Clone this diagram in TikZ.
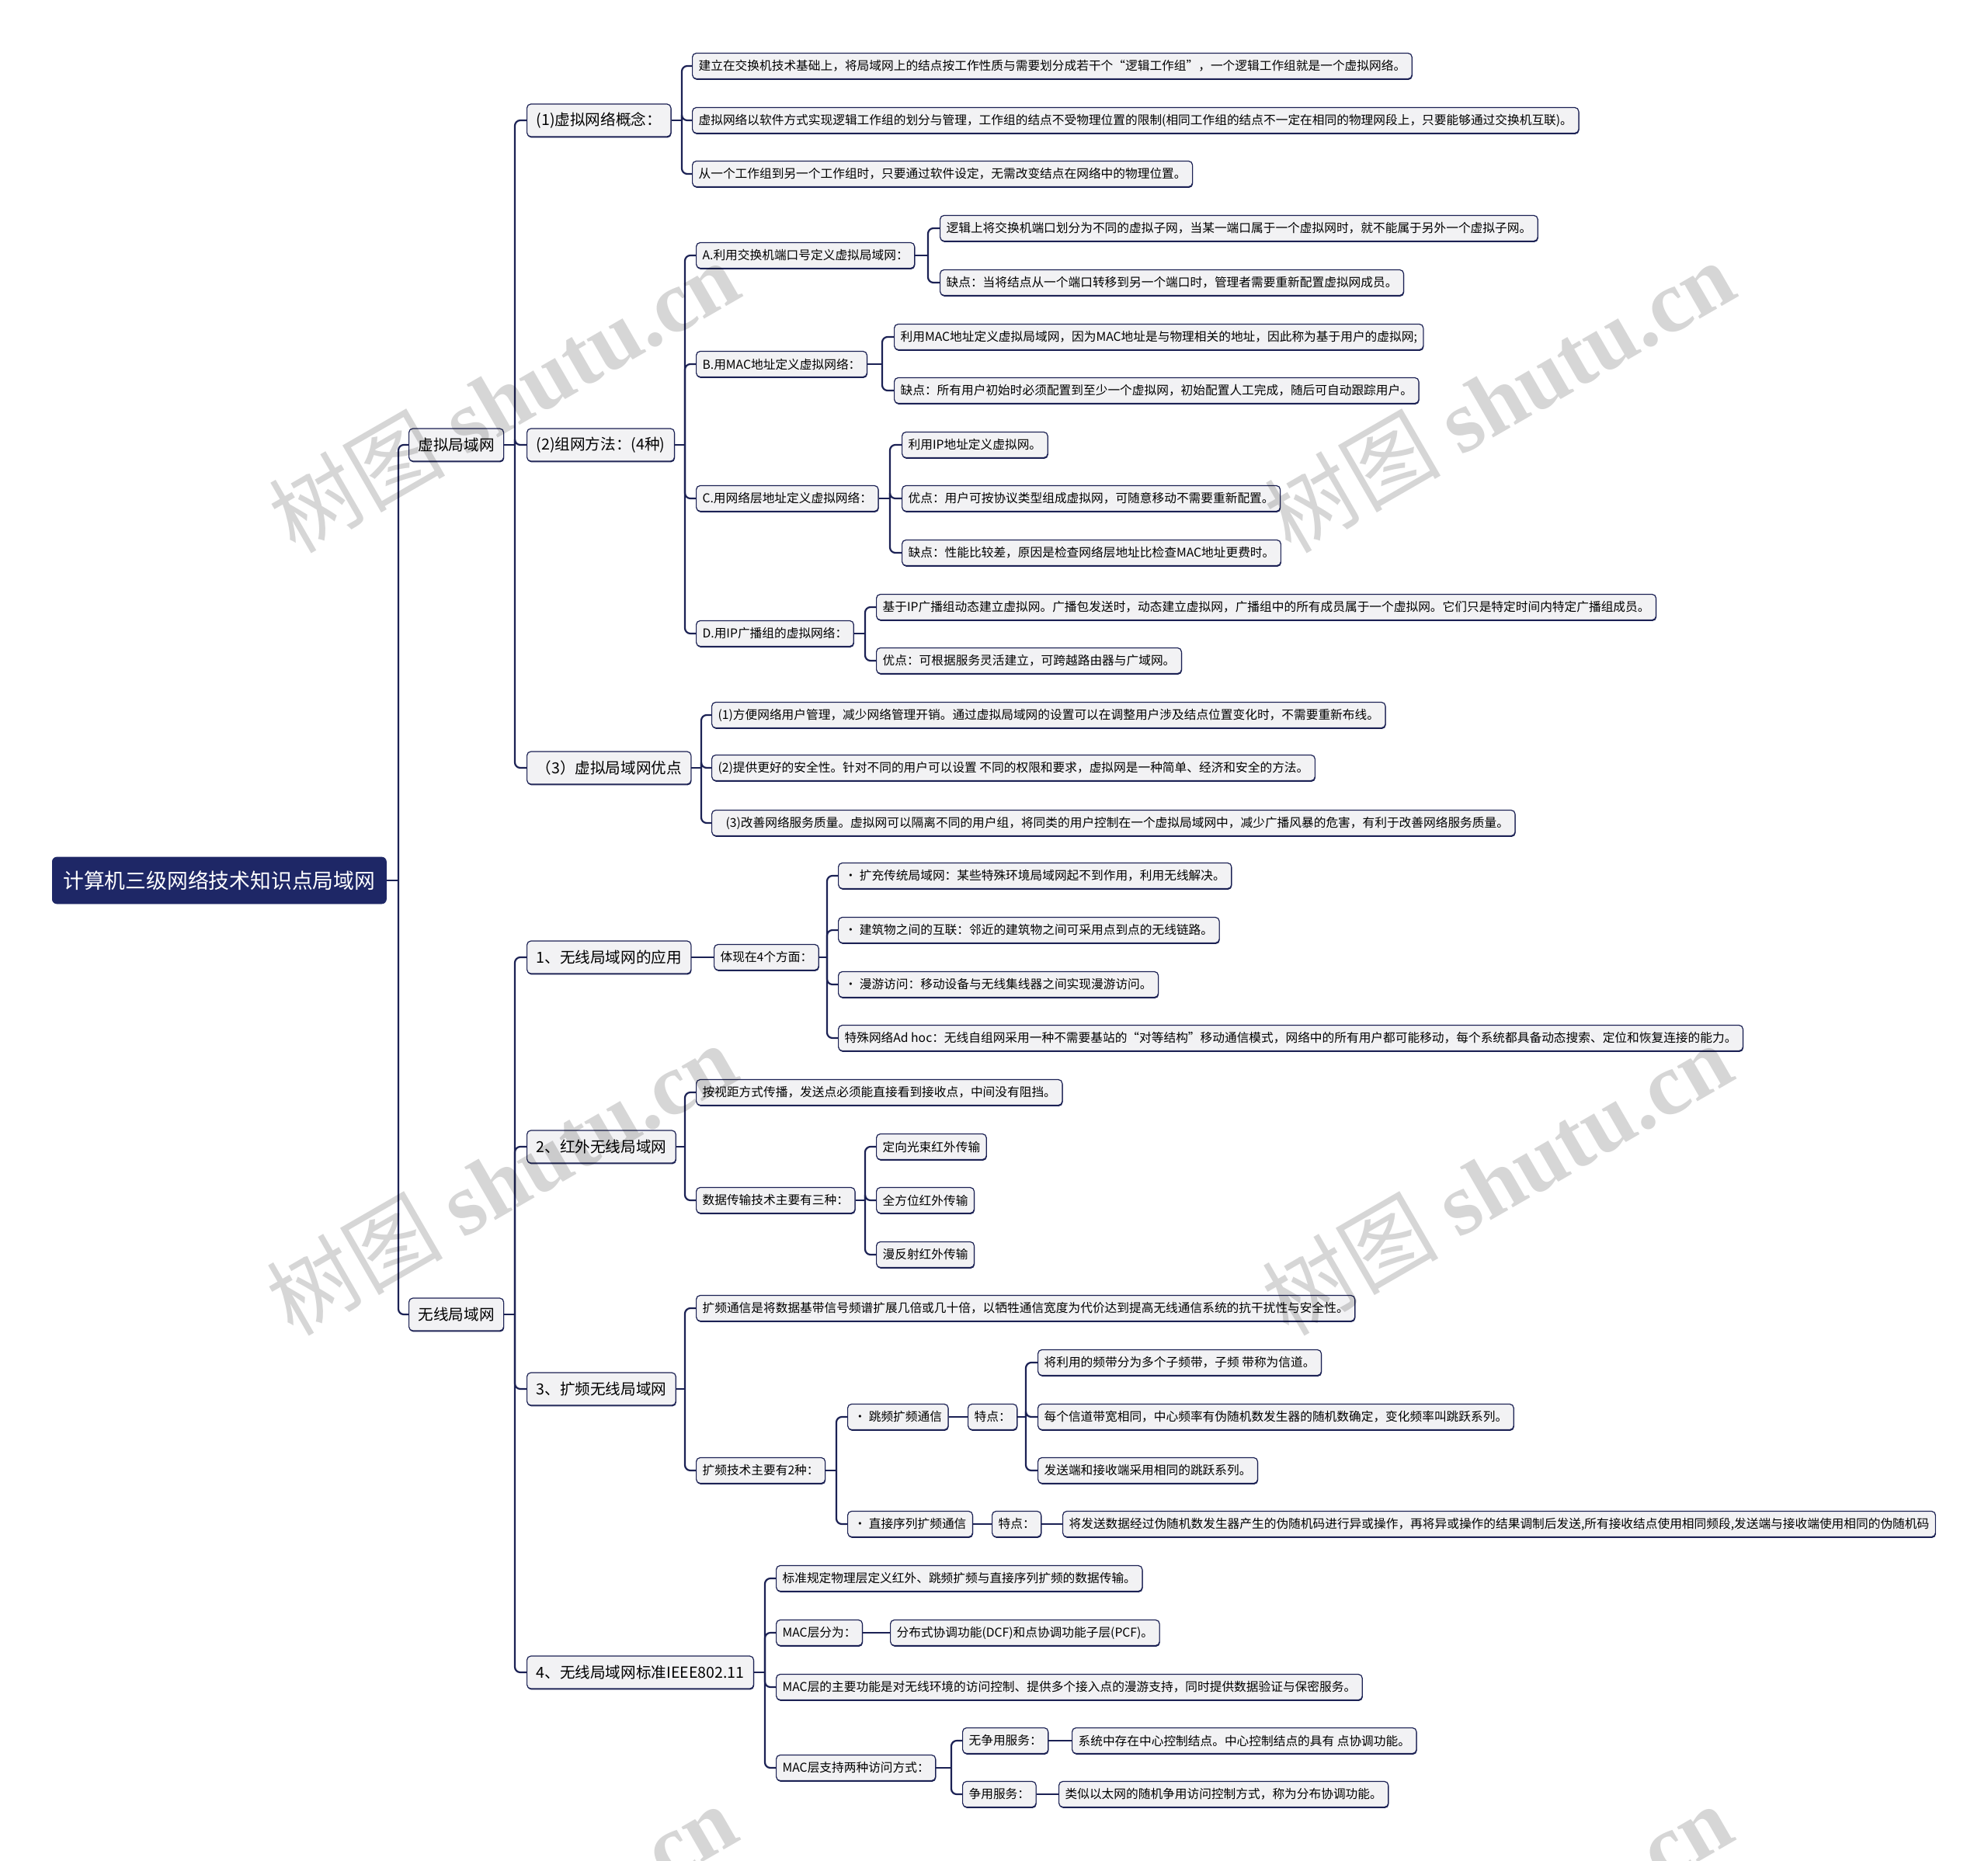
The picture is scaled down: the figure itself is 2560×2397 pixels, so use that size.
\documentclass[tikz,border=0pt]{standalone}
\usepackage{fontspec}
\setmainfont{Noto Sans CJK SC}
\newfontfamily\wmserif{Liberation Serif}
\newfontfamily\wmcjk{Noto Sans CJK SC}
\usetikzlibrary{shadows}
\definecolor{navy}{HTML}{1B2154}
\definecolor{rootfill}{HTML}{1E2766}
\definecolor{boxfill}{HTML}{F2F2F4}
\begin{document}
\begin{tikzpicture}[x=0.5pt,y=-0.5pt,
  leaf/.style={draw=navy, fill=boxfill, rounded corners=2.5pt, line width=0.6pt,
    inner xsep=4pt, inner ysep=0pt, minimum height=16.5pt, anchor=west,
    font=\fontsize{7.85}{10}\selectfont,
    drop shadow={opacity=1, fill=navy, shadow xshift=0.3pt, shadow yshift=-0.7pt}},
  mid/.style={leaf, font=\fontsize{9.8}{11}\selectfont, minimum height=21pt, inner xsep=6pt},
  rootbox/.style={fill=rootfill, draw=rootfill, text=white, rounded corners=3pt, anchor=west,
    font=\fontsize{13.4}{16}\selectfont, minimum height=30pt, inner xsep=7pt},
  conn/.style={draw=navy, line width=1.1pt},
  fork/.style={conn, rounded corners=3.5pt},
  wmark/.style={text=black, opacity=0.16, rotate=30, font=\fontsize{57}{60}\selectfont}]
\useasboundingbox (0,0) rectangle (2560,2397);

% root and level 1
\node[rootbox] (root) at (67,1134) {计算机三级网络技术知识点局域网};
\node[mid] (vlan) at (526,573) {虚拟局域网};
\node[mid] (wlan) at (526,1693) {无线局域网};

% level 2
\node[mid] (c1) at (678,155) {(1)虚拟网络概念：};
\node[mid] (c2) at (678,573) {(2)组网方法：(4种)};
\node[mid] (c3) at (678,989) {（3）虚拟局域网优点};
\node[mid] (w1) at (678,1233) {1、无线局域网的应用};
\node[mid] (w2) at (678,1477) {2、红外无线局域网};
\node[mid] (w3) at (678,1789) {3、扩频无线局域网};
\node[mid] (w4) at (678,2154) {4、无线局域网标准IEEE802.11};

% (1)
\node[leaf] (c1a) at (891,85) {建立在交换机技术基础上，将局域网上的结点按工作性质与需要划分成若干个“逻辑工作组”，一个逻辑工作组就是一个虚拟网络。};
\node[leaf] (c1b) at (891,155) {虚拟网络以软件方式实现逻辑工作组的划分与管理，工作组的结点不受物理位置的限制(相同工作组的结点不一定在相同的物理网段上，只要能够通过交换机互联)。};
\node[leaf] (c1c) at (891,224) {从一个工作组到另一个工作组时，只要通过软件设定，无需改变结点在网络中的物理位置。};

% (2)
\node[leaf] (A) at (896,329) {A.利用交换机端口号定义虚拟局域网：};
\node[leaf] (Aa) at (1210,294) {逻辑上将交换机端口划分为不同的虚拟子网，当某一端口属于一个虚拟网时，就不能属于另外一个虚拟子网。};
\node[leaf] (Ab) at (1210,364) {缺点：当将结点从一个端口转移到另一个端口时，管理者需要重新配置虚拟网成员。};
\node[leaf] (B) at (896,469) {B.用MAC地址定义虚拟网络：};
\node[leaf] (Ba) at (1151,434) {利用MAC地址定义虚拟局域网，因为MAC地址是与物理相关的地址，因此称为基于用户的虚拟网;};
\node[leaf] (Bb) at (1151,503) {缺点：所有用户初始时必须配置到至少一个虚拟网，初始配置人工完成，随后可自动跟踪用户。};
\node[leaf] (C) at (896,642) {C.用网络层地址定义虚拟网络：};
\node[leaf] (Ca) at (1161,573) {利用IP地址定义虚拟网。};
\node[leaf] (Cb) at (1161,642) {优点：用户可按协议类型组成虚拟网，可随意移动不需要重新配置。};
\node[leaf] (Cc) at (1161,712) {缺点：性能比较差，原因是检查网络层地址比检查MAC地址更费时。};
\node[leaf] (D) at (896,816) {D.用IP广播组的虚拟网络：};
\node[leaf] (Da) at (1128,782) {基于IP广播组动态建立虚拟网。广播包发送时，动态建立虚拟网，广播组中的所有成员属于一个虚拟网。它们只是特定时间内特定广播组成员。};
\node[leaf] (Db) at (1128,851) {优点：可根据服务灵活建立，可跨越路由器与广域网。};

% (3)
\node[leaf] (c3a) at (916,921) {(1)方便网络用户管理，减少网络管理开销。通过虚拟局域网的设置可以在调整用户涉及结点位置变化时，不需要重新布线。};
\node[leaf] (c3b) at (916,989) {(2)提供更好的安全性。针对不同的用户可以设置 不同的权限和要求，虚拟网是一种简单、经济和安全的方法。};
\node[leaf] (c3c) at (916,1060) {\hspace*{5pt}(3)改善网络服务质量。虚拟网可以隔离不同的用户组，将同类的用户控制在一个虚拟局域网中，减少广播风暴的危害，有利于改善网络服务质量。};

% wireless 1
\node[leaf] (four) at (919,1233) {体现在4个方面：};
\node[leaf] (f1) at (1079,1128) {• 扩充传统局域网：某些特殊环境局域网起不到作用，利用无线解决。};
\node[leaf] (f2) at (1079,1198) {• 建筑物之间的互联：邻近的建筑物之间可采用点到点的无线链路。};
\node[leaf] (f3) at (1079,1268) {• 漫游访问：移动设备与无线集线器之间实现漫游访问。};
\node[leaf] (f4) at (1079,1337) {特殊网络Ad hoc：无线自组网采用一种不需要基站的“对等结构”移动通信模式，网络中的所有用户都可能移动，每个系统都具备动态搜索、定位和恢复连接的能力。};

% wireless 2
\node[leaf] (los) at (896,1407) {按视距方式传播，发送点必须能直接看到接收点，中间没有阻挡。};
\node[leaf] (dtt) at (896,1546) {数据传输技术主要有三种：};
\node[leaf] (d1) at (1128,1477) {定向光束红外传输};
\node[leaf] (d2) at (1128,1546) {全方位红外传输};
\node[leaf] (d3) at (1128,1616) {漫反射红外传输};

% wireless 3
\node[leaf] (ss) at (896,1685) {扩频通信是将数据基带信号频谱扩展几倍或几十倍，以牺牲通信宽度为代价达到提高无线通信系统的抗干扰性与安全性。};
\node[leaf] (sst) at (896,1894) {扩频技术主要有2种：};
\node[leaf] (fh) at (1091,1825) {• 跳频扩频通信};
\node[leaf] (fhT) at (1246,1825) {特点：};
\node[leaf] (fh1) at (1336,1755) {将利用的频带分为多个子频带，子频 带称为信道。};
\node[leaf] (fh2) at (1336,1825) {每个信道带宽相同，中心频率有伪随机数发生器的随机数确定，变化频率叫跳跃系列。};
\node[leaf] (fh3) at (1336,1894) {发送端和接收端采用相同的跳跃系列。};
\node[leaf] (ds) at (1091,1963) {• 直接序列扩频通信};
\node[leaf] (dsT) at (1277,1963) {特点：};
\node[leaf] (dsL) at (1368,1963) {将发送数据经过伪随机数发生器产生的伪随机码进行异或操作，再将异或操作的结果调制后发送,所有接收结点使用相同频段,发送端与接收端使用相同的伪随机码};

% wireless 4
\node[leaf] (std) at (999,2033) {标准规定物理层定义红外、跳频扩频与直接序列扩频的数据传输。};
\node[leaf] (mac) at (999,2103) {MAC层分为：};
\node[leaf] (macL) at (1146,2103) {分布式协调功能(DCF)和点协调功能子层(PCF)。};
\node[leaf] (macF) at (999,2173) {MAC层的主要功能是对无线环境的访问控制、提供多个接入点的漫游支持，同时提供数据验证与保密服务。};
\node[leaf] (acc) at (999,2277) {MAC层支持两种访问方式：};
\node[leaf] (nc) at (1239,2242) {无争用服务：};
\node[leaf] (ncL) at (1380,2242) {系统中存在中心控制结点。中心控制结点的具有 点协调功能。};
\node[leaf] (cs) at (1239,2311) {争用服务：};
\node[leaf] (csL) at (1363,2311) {类似以太网的随机争用访问控制方式，称为分布协调功能。};

% junctions
\coordinate (jroot) at (513,1134);
\coordinate (jvlan) at (663,573);
\coordinate (jwlan) at (663,1693);
\coordinate (jc1) at (878,155);
\coordinate (jc2) at (882,573);
\coordinate (jc3) at (903,989);
\coordinate (jA) at (1195,329);
\coordinate (jB) at (1136,469);
\coordinate (jC) at (1146,642);
\coordinate (jD) at (1114,816);
\coordinate (jfour) at (1065,1233);
\coordinate (jw2) at (882,1477);
\coordinate (jdtt) at (1114,1546);
\coordinate (jw3) at (882,1789);
\coordinate (jsst) at (1077,1894);
\coordinate (jfhT) at (1321,1825);
\coordinate (jw4) at (985,2154);
\coordinate (jacc) at (1225,2277);

% connectors
\draw[conn] (root.east) -- (jroot);
\foreach \c in {vlan,wlan} \draw[fork] (jroot) |- (\c.west);
\draw[conn] (vlan.east) -- (jvlan);
\foreach \c in {c1,c2,c3} \draw[fork] (jvlan) |- (\c.west);
\draw[conn] (wlan.east) -- (jwlan);
\foreach \c in {w1,w2,w3,w4} \draw[fork] (jwlan) |- (\c.west);
\draw[conn] (c1.east) -- (jc1);
\foreach \c in {c1a,c1b,c1c} \draw[fork] (jc1) |- (\c.west);
\draw[conn] (c2.east) -- (jc2);
\foreach \c in {A,B,C,D} \draw[fork] (jc2) |- (\c.west);
\draw[conn] (c3.east) -- (jc3);
\foreach \c in {c3a,c3b,c3c} \draw[fork] (jc3) |- (\c.west);
\draw[conn] (A.east) -- (jA);
\foreach \c in {Aa,Ab} \draw[fork] (jA) |- (\c.west);
\draw[conn] (B.east) -- (jB);
\foreach \c in {Ba,Bb} \draw[fork] (jB) |- (\c.west);
\draw[conn] (C.east) -- (jC);
\foreach \c in {Ca,Cb,Cc} \draw[fork] (jC) |- (\c.west);
\draw[conn] (D.east) -- (jD);
\foreach \c in {Da,Db} \draw[fork] (jD) |- (\c.west);
\draw[conn] (w1.east) -- (four.west);
\draw[conn] (four.east) -- (jfour);
\foreach \c in {f1,f2,f3,f4} \draw[fork] (jfour) |- (\c.west);
\draw[conn] (w2.east) -- (jw2);
\foreach \c in {los,dtt} \draw[fork] (jw2) |- (\c.west);
\draw[conn] (dtt.east) -- (jdtt);
\foreach \c in {d1,d2,d3} \draw[fork] (jdtt) |- (\c.west);
\draw[conn] (w3.east) -- (jw3);
\foreach \c in {ss,sst} \draw[fork] (jw3) |- (\c.west);
\draw[conn] (sst.east) -- (jsst);
\foreach \c in {fh,ds} \draw[fork] (jsst) |- (\c.west);
\draw[conn] (fh.east) -- (fhT.west);
\draw[conn] (fhT.east) -- (jfhT);
\foreach \c in {fh1,fh2,fh3} \draw[fork] (jfhT) |- (\c.west);
\draw[conn] (ds.east) -- (dsT.west);
\draw[conn] (dsT.east) -- (dsL.west);
\draw[conn] (w4.east) -- (jw4);
\foreach \c in {std,mac,macF,acc} \draw[fork] (jw4) |- (\c.west);
\draw[conn] (mac.east) -- (macL.west);
\draw[conn] (acc.east) -- (jacc);
\foreach \c in {nc,cs} \draw[fork] (jacc) |- (\c.west);
\draw[conn] (nc.east) -- (ncL.west);
\draw[conn] (cs.east) -- (csL.west);

% watermarks
\begin{scope}
\clip (0,0) rectangle (2560,2397);
\foreach \wx/\wy [count=\i] in {648/510,1930/510,645/1518,1927/1518,645/2498,1927/2498}
  \node[wmark] (wm\i) at (\wx,\wy) {\wmcjk 树图 {\wmserif\bfseries shutu.cn}};
\end{scope}
\end{tikzpicture}
\end{document}
